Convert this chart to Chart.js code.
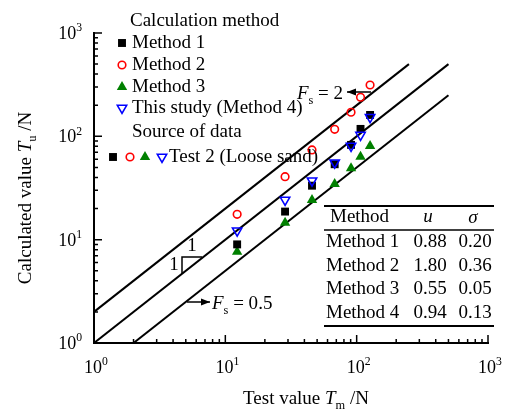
<!DOCTYPE html>
<html>
<head>
<meta charset="utf-8">
<script src="https://cdn.jsdelivr.net/npm/chart.js@4.4.0/dist/chart.umd.min.js"></script>
<style>
  html, body { margin: 0; padding: 0; background: #fff; }
  #wrap { width: 505px; height: 410px; }
</style>
</head>
<body>
<div id="wrap"><canvas id="chart"></canvas></div>
<script>
// test values (x) and the four calculated series (y)
const testValue = [12.3, 28.5, 45.7, 68, 90.6, 107, 126.5];
const method1 = [9.0, 18.7, 33.3, 53.7, 82.6, 118, 161];
const method2 = [17.6, 40.7, 73.8, 117, 171, 239, 314];
const method3 = [7.65, 14.6, 24.2, 34.6, 49.1, 63.6, 80.7];
const method4 = [12.2, 24.2, 37.2, 55.6, 80.7, 103, 153];

// reference lines Fs = 2, 1, 0.5 (end points)
const lineFs2 = [{x: 1, y: 2}, {x: 250, y: 500}];
const lineFs1 = [{x: 1, y: 1}, {x: 500, y: 500}];
const lineFs05 = [{x: 2, y: 1}, {x: 500, y: 250}];

const decades = [1, 10, 100, 1000];
const decadeExp = ['0', '1', '2', '3'];

const tableNames = ['Method 1', 'Method 2', 'Method 3', 'Method 4'];
const tableU = ['0.88', '1.80', '0.55', '0.94'];
const tableSigma = ['0.20', '0.36', '0.05', '0.13'];

const FONT = '"Liberation Serif", "Times New Roman", serif';

function pts(ys) {
  return testValue.map((x, i) => ({x: x, y: ys[i]}));
}

const styles = {
  m1: {pointStyle: 'rect', radius: 5.6, rotation: 0, fill: '#000', stroke: '#000', bw: 0},
  m2: {pointStyle: 'circle', radius: 3.8, rotation: 0, fill: 'transparent', stroke: '#ff0000', bw: 1.6},
  m3: {pointStyle: 'triangle', radius: 6, rotation: 0, fill: '#008000', stroke: '#008000', bw: 0},
  m4: {pointStyle: 'triangle', radius: 5.4, rotation: 180, fill: 'transparent', stroke: '#0000ff', bw: 1.6}
};

function pointSet(data, s) {
  return {
    data: data,
    pointStyle: s.pointStyle,
    pointRadius: s.radius,
    pointRotation: s.rotation,
    pointBackgroundColor: s.fill,
    pointBorderColor: s.stroke,
    pointBorderWidth: s.bw,
    showLine: false
  };
}

function lineSet(data) {
  return {data: data, showLine: true, borderColor: '#000', borderWidth: 2, pointRadius: 0, fill: false};
}

// text with italic / sub / sup pieces
function rich(ctx, parts, x, y, align, size) {
  const fontOf = p => {
    const sz = p.s ? size * 0.65 : size;
    return (p.i ? 'italic ' : '') + sz + 'px ' + FONT;
  };
  let w = 0;
  parts.forEach(p => { ctx.font = fontOf(p); w += ctx.measureText(p.t).width; });
  let cx = align === 'center' ? x - w / 2 : align === 'right' ? x - w : x;
  ctx.textAlign = 'left';
  ctx.textBaseline = 'alphabetic';
  parts.forEach(p => {
    ctx.font = fontOf(p);
    const dy = p.s === 'sub' ? size * 0.28 : p.s === 'sup' ? -size * 0.42 : 0;
    ctx.fillText(p.t, cx, y + dy);
    cx += ctx.measureText(p.t).width;
  });
  return w;
}

function marker(ctx, s, x, y) {
  ctx.save();
  ctx.fillStyle = s.fill;
  ctx.strokeStyle = s.stroke;
  ctx.lineWidth = s.bw;
  Chart.helpers.drawPoint(ctx, {pointStyle: s.pointStyle, radius: s.radius, rotation: s.rotation, borderWidth: s.bw}, x, y);
  ctx.restore();
}

function arrow(ctx, x1, y1, x2, y2) {
  ctx.beginPath();
  ctx.moveTo(x1, y1);
  ctx.lineTo(x2, y2);
  ctx.stroke();
  const dir = Math.sign(x2 - x1);
  ctx.beginPath();
  ctx.moveTo(x2, y2);
  ctx.lineTo(x2 - dir * 9, y2 - 3.5);
  ctx.lineTo(x2 - dir * 9, y2 + 3.5);
  ctx.closePath();
  ctx.fill();
}

const decorations = {
  id: 'decorations',
  afterDraw(chart) {
    const ctx = chart.ctx;
    const xs = chart.scales.x, ys = chart.scales.y;
    const x0 = xs.getPixelForValue(1), y0 = ys.getPixelForValue(1);
    const x1 = xs.getPixelForValue(1000), y1 = ys.getPixelForValue(1000);
    ctx.save();
    ctx.strokeStyle = '#000';
    ctx.fillStyle = '#000';

    // axes
    ctx.lineWidth = 2;
    ctx.beginPath();
    ctx.moveTo(x0, y1 - 1);
    ctx.lineTo(x0, y0);
    ctx.lineTo(x1 + 1, y0);
    ctx.stroke();

    // ticks (inward)
    ctx.lineWidth = 1.5;
    decades.forEach((d, k) => {
      const px = xs.getPixelForValue(d), py = ys.getPixelForValue(d);
      ctx.beginPath();
      ctx.moveTo(px, y0); ctx.lineTo(px, y0 - 8);
      ctx.moveTo(x0, py); ctx.lineTo(x0 + 8, py);
      ctx.stroke();
      if (k < 3) {
        for (let m = 2; m <= 9; m++) {
          const mx = xs.getPixelForValue(d * m), my = ys.getPixelForValue(d * m);
          ctx.beginPath();
          ctx.moveTo(mx, y0); ctx.lineTo(mx, y0 - 4);
          ctx.moveTo(x0, my); ctx.lineTo(x0 + 4, my);
          ctx.stroke();
        }
      }
      // labels
      rich(ctx, [{t: '10'}, {t: decadeExp[k], s: 'sup'}], px + 2, y0 + 30, 'center', 18);
      rich(ctx, [{t: '10'}, {t: decadeExp[k], s: 'sup'}], x0 - 12, py + 6, 'right', 18);
    });

    // axis titles
    rich(ctx, [{t: 'Test value '}, {t: 'T', i: true}, {t: 'm', s: 'sub'}, {t: ' /N'}], 306, 404, 'center', 19);
    ctx.save();
    ctx.translate(31, 198);
    ctx.rotate(-Math.PI / 2);
    rich(ctx, [{t: 'Calculated value '}, {t: 'T', i: true}, {t: 'u', s: 'sub'}, {t: ' /N'}], 0, 0, 'center', 19);
    ctx.restore();

    // legend
    const fs = 19;
    ctx.font = fs + 'px ' + FONT;
    ctx.textAlign = 'left';
    ctx.textBaseline = 'middle';
    ctx.fillText('Calculation method', 130, 21);
    const rows = [['m1', 'Method 1', 43], ['m2', 'Method 2', 65], ['m3', 'Method 3', 87], ['m4', 'This study (Method 4)', 108]];
    rows.forEach(r => {
      marker(ctx, styles[r[0]], 122, r[2]);
      ctx.fillStyle = '#000';
      ctx.font = fs + 'px ' + FONT;
      ctx.textBaseline = 'middle';
      ctx.fillText(r[1], 132, r[2]);
    });
    ctx.fillText('Source of data', 132, 132);
    marker(ctx, styles.m1, 113, 157);
    marker(ctx, styles.m2, 130, 157);
    marker(ctx, styles.m3, 145, 157);
    marker(ctx, styles.m4, 162, 157);
    ctx.fillStyle = '#000';
    ctx.font = fs + 'px ' + FONT;
    ctx.textBaseline = 'middle';
    ctx.fillText('Test 2 (Loose sand)', 169, 157);

    // Fs labels and arrows
    ctx.lineWidth = 1.5;
    arrow(ctx, 371, 92, 347, 92);
    rich(ctx, [{t: 'F', i: true}, {t: 's', s: 'sub'}, {t: ' = 2'}], 343, 99, 'right', 19);
    arrow(ctx, 187, 302, 210, 302);
    rich(ctx, [{t: 'F', i: true}, {t: 's', s: 'sub'}, {t: ' = 0.5'}], 212, 309, 'left', 19);

    // slope triangle
    ctx.lineWidth = 1.5;
    ctx.beginPath();
    ctx.moveTo(182, 274);
    ctx.lineTo(182, 257);
    ctx.lineTo(202, 257);
    ctx.stroke();
    ctx.font = fs + 'px ' + FONT;
    ctx.textAlign = 'center';
    ctx.textBaseline = 'middle';
    ctx.fillText('1', 192, 246);
    ctx.fillText('1', 174, 265);

    // table
    const tl = 324, tr = 494;
    ctx.lineWidth = 2;
    ctx.beginPath(); ctx.moveTo(tl, 206); ctx.lineTo(tr, 206); ctx.stroke();
    ctx.lineWidth = 1.3;
    ctx.beginPath(); ctx.moveTo(tl, 230); ctx.lineTo(tr, 230); ctx.stroke();
    ctx.lineWidth = 2;
    ctx.beginPath(); ctx.moveTo(tl, 326); ctx.lineTo(tr, 326); ctx.stroke();
    ctx.textAlign = 'left';
    ctx.font = fs + 'px ' + FONT;
    ctx.fillText('Method', 330, 217);
    ctx.textAlign = 'center';
    ctx.font = 'italic ' + fs + 'px ' + FONT;
    ctx.fillText('u', 428, 217);
    ctx.fillText('\u03c3', 473, 218);
    ctx.font = fs + 'px ' + FONT;
    const rowY = [242, 266, 289, 313];
    tableNames.forEach((n, i) => {
      ctx.textAlign = 'left';
      ctx.fillText(n, 326, rowY[i]);
      ctx.textAlign = 'center';
      ctx.fillText(tableU[i], 430, rowY[i]);
      ctx.fillText(tableSigma[i], 475, rowY[i]);
    });
    ctx.restore();
  }
};

const config = {
  type: 'scatter',
  data: {
    datasets: [
      pointSet(pts(method4), styles.m4),
      pointSet(pts(method2), styles.m2),
      pointSet(pts(method1), styles.m1),
      pointSet(pts(method3), styles.m3),
      lineSet(lineFs2),
      lineSet(lineFs1),
      lineSet(lineFs05)
    ]
  },
  options: {
    responsive: true,
    maintainAspectRatio: false,
    animation: false,
    layout: {padding: {left: 94, right: 17, top: 33, bottom: 67}},
    plugins: {legend: {display: false}, tooltip: {enabled: false}},
    scales: {
      x: {type: 'logarithmic', min: 1, max: 1000, display: false},
      y: {type: 'logarithmic', min: 1, max: 1000, display: false}
    }
  },
  plugins: [decorations]
};

const chart = new Chart(document.getElementById('chart'), config);
</script>
</body>
</html>
